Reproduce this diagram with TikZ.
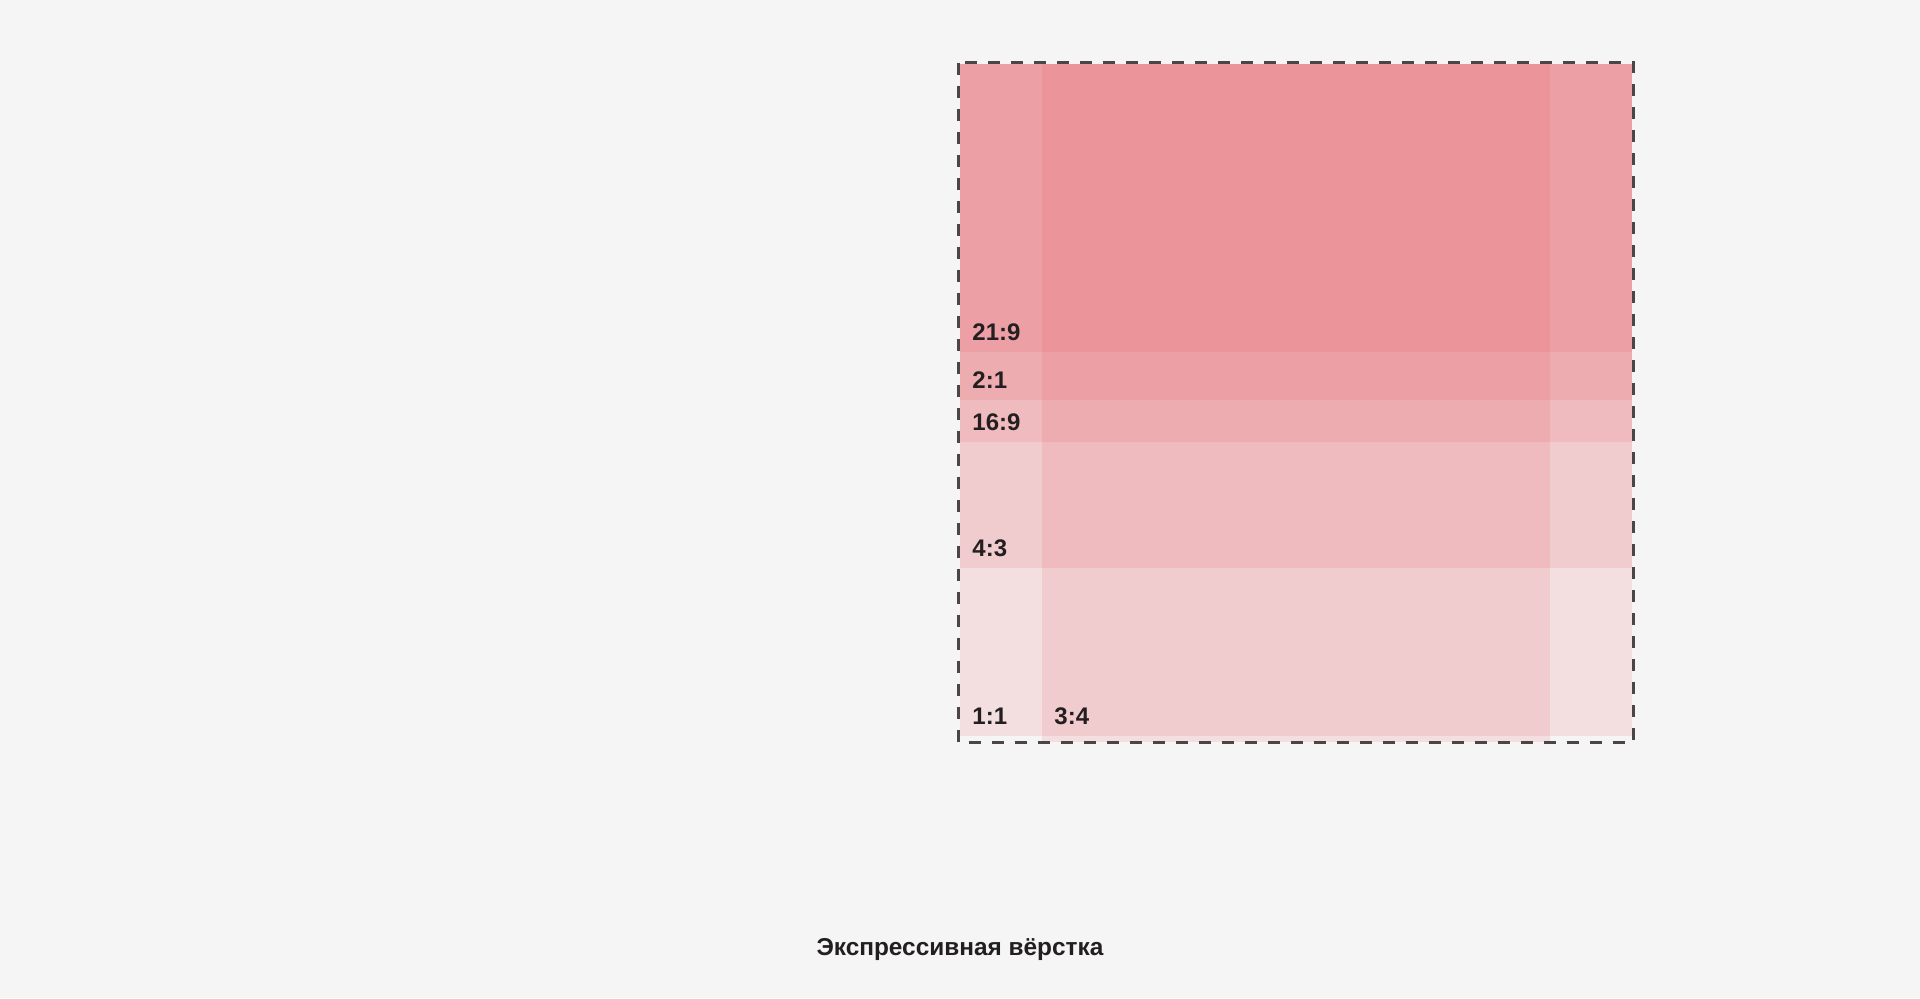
\documentclass[tikz,border=0pt]{standalone}
\usepackage{fontspec}
\setmainfont{Liberation Sans}
\usetikzlibrary{calc}
\definecolor{paper}{HTML}{F5F5F5}
\definecolor{ratiopink}{RGB}{230,78,88}
\definecolor{framegray}{HTML}{4D4445}
\definecolor{ink}{HTML}{231F20}

\begin{document}
\begin{tikzpicture}[x=0.5pt,y=-0.5pt,
    ratio/.style={fill=ratiopink,fill opacity=0.13},
    tag/.style={anchor=base west,inner sep=0pt,text=ink,
      font=\fontsize{12}{14}\selectfont\bfseries}]
  \fill[paper] (0,0) rectangle (1920,998);
  \useasboundingbox (0,0) rectangle (1920,998);

  % one frame per ratio, all hanging from the same top edge
  \foreach \xa/\xb/\yb in {960/1632/736, 1042/1550/742, 960/1632/568,
                          960/1632/442, 960/1632/400, 960/1632/352}
    \fill[ratio] (\xa,64) rectangle (\xb,\yb);

  \draw[framegray, line width=1.5pt, dash pattern=on 6pt off 5.5pt]
    (958.5,62.5) rectangle (1633,742.5);

  \node[tag] (r219) at (972,340) {21:9};
  \node[tag] (r21)  at (972,388) {2:1};
  \node[tag] (r169) at (972,430) {16:9};
  \node[tag] (r43)  at (972,556) {4:3};
  \node[tag] (r11)  at (972,724) {1:1};
  \node[tag] (r34)  at (1054,724) {3:4};

  \node[anchor=base, inner sep=0pt, text=ink,
    font=\fontsize{12.2}{14}\selectfont\bfseries] (title) at (960,955)
    {Экспрессивная вёрстка};
\end{tikzpicture}
\end{document}
